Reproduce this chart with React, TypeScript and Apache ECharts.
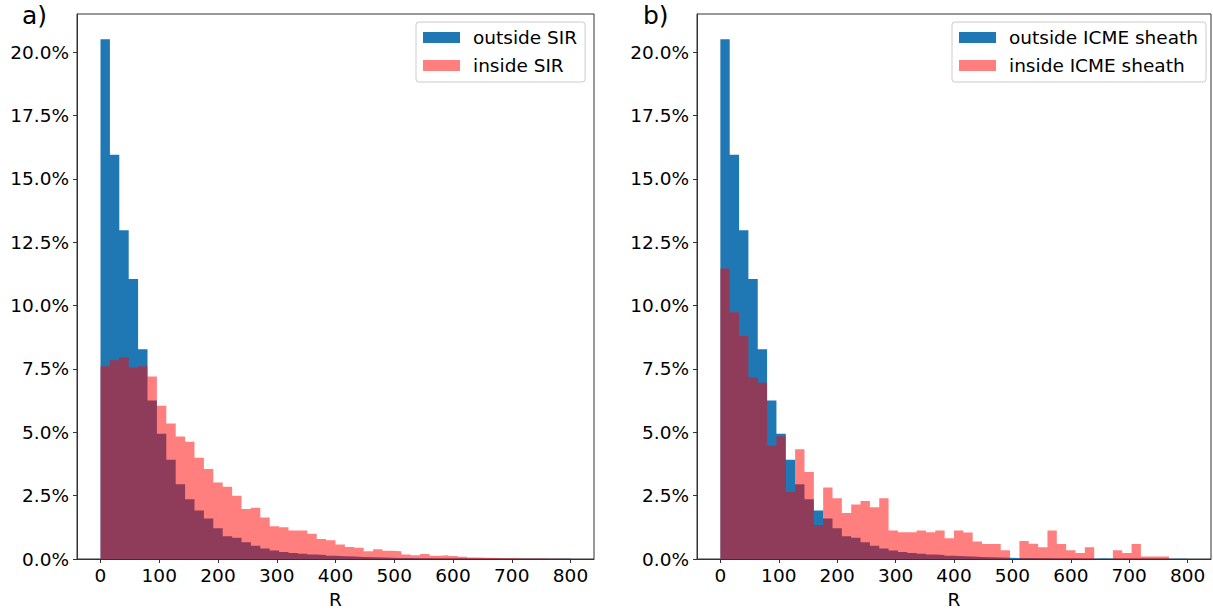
import React, { useEffect, useRef } from "react";
import * as echarts from "echarts";

// Histogram bin edges (R), 50 bins of width 16
const BIN_EDGES = [
  0, 16, 32, 48, 64, 80, 96, 112, 128, 144, 160, 176, 192, 208, 224, 240, 256, 272, 288, 304,
  320, 336, 352, 368, 384, 400, 416, 432, 448, 464, 480, 496, 512, 528, 544, 560, 576, 592, 608, 624,
  640, 656, 672, 688, 704, 720, 736, 752, 768, 784, 800,
];

// Percent of samples per bin
const OUTSIDE_SIR = [
  20.5, 15.95, 12.97, 11.05, 8.27, 6.25, 4.94, 3.92, 2.95, 2.36,
  1.91, 1.6, 1.21, 0.9, 0.84, 0.66, 0.52, 0.41, 0.34, 0.28,
  0.24, 0.21, 0.18, 0.16, 0.13, 0.11, 0.1, 0.08, 0.07, 0.06,
  0.05, 0.04, 0.04, 0.03, 0.03, 0.02, 0.02, 0.02, 0.01, 0.01,
  0.01, 0.01, 0.01, 0.01, 0.01, 0.01, 0.005, 0.005, 0.005, 0.005,
];
const INSIDE_SIR = [
  7.6, 7.84, 7.95, 7.55, 7.6, 7.2, 6.05, 5.35, 4.83, 4.63,
  3.99, 3.55, 3.02, 2.85, 2.5, 1.97, 2.02, 1.64, 1.29, 1.25,
  1.12, 1.12, 1.0, 0.79, 0.74, 0.57, 0.47, 0.44, 0.31, 0.38,
  0.33, 0.31, 0.18, 0.15, 0.2, 0.13, 0.15, 0.12, 0.09, 0.06,
  0.05, 0.04, 0.03, 0.03, 0.02, 0.02, 0.02, 0.01, 0.01, 0.01,
];
const OUTSIDE_ICME = [
  20.5, 15.95, 12.97, 11.05, 8.27, 6.25, 4.94, 3.92, 2.95, 2.36,
  1.91, 1.6, 1.21, 0.9, 0.84, 0.66, 0.52, 0.41, 0.34, 0.28,
  0.24, 0.21, 0.18, 0.16, 0.13, 0.11, 0.1, 0.08, 0.07, 0.06,
  0.05, 0.04, 0.04, 0.03, 0.03, 0.02, 0.02, 0.02, 0.01, 0.01,
  0.02, 0.01, 0.01, 0.01, 0.01, 0.01, 0.005, 0.005, 0.005, 0.005,
];
const INSIDE_ICME = [
  11.46, 9.73, 8.8, 7.16, 6.95, 4.47, 4.84, 2.64, 4.33, 3.43,
  1.34, 2.82, 2.4, 1.81, 2.15, 2.29, 2.04, 2.4, 1.12, 1.06,
  1.06, 1.12, 1.06, 1.12, 0.82, 1.12, 1.05, 0.69, 0.59, 0.59,
  0.35, 0, 0.71, 0.6, 0.46, 1.12, 0.59, 0.35, 0.24, 0.46,
  0, 0, 0.35, 0.24, 0.59, 0.1, 0.1, 0.1, 0, 0,
];

const X_TICKS = [0, 100, 200, 300, 400, 500, 600, 700, 800];
const Y_TICKS = [0, 2.5, 5, 7.5, 10, 12.5, 15, 17.5, 20];

const PANEL_LABELS = ["a)", "b)"];
const LEGEND_A = ["outside SIR", "inside SIR"];
const LEGEND_B = ["outside ICME sheath", "inside ICME sheath"];

const BLUE = "#1f77b4";
const RED = "rgba(255,0,0,0.5)";
const FONT = "DejaVu Sans";
const AXIS_COLOR = "#333";
const FS = 18.5;

function stepData(values: number[]) {
  const pts = values.map((v, i) => [BIN_EDGES[i], v]);
  pts.push([BIN_EDGES[values.length], values[values.length - 1]]);
  return pts;
}

function histSeries(name: string, values: number[], color: string, idx: number) {
  return {
    name,
    type: "line",
    xAxisIndex: idx,
    yAxisIndex: idx,
    step: "end",
    symbol: "none",
    silent: true,
    lineStyle: { width: 0, color },
    itemStyle: { color },
    areaStyle: { color, opacity: 1 },
    data: stepData(values),
  };
}

function xAxisFor(idx: number) {
  return {
    gridIndex: idx,
    type: "value",
    min: -40,
    max: 840,
    z: 10,
    axisLine: { show: true, onZero: false, lineStyle: { color: AXIS_COLOR, width: 1 } },
    axisTick: { show: true, length: 4, customValues: X_TICKS, lineStyle: { color: AXIS_COLOR } },
    axisLabel: {
      customValues: X_TICKS,
      fontSize: FS,
      color: "#000",
      fontFamily: FONT,
      margin: 7,
    },
    splitLine: { show: false },
    name: "R",
    nameLocation: "middle",
    nameGap: 31,
    nameTextStyle: { fontSize: FS, color: "#000", fontFamily: FONT },
  };
}

function yAxisFor(idx: number) {
  return {
    gridIndex: idx,
    type: "value",
    min: 0,
    max: 21.5,
    z: 10,
    axisLine: { show: true, onZero: false, lineStyle: { color: AXIS_COLOR, width: 1 } },
    axisTick: { show: true, length: 4, customValues: Y_TICKS, lineStyle: { color: AXIS_COLOR } },
    axisLabel: {
      customValues: Y_TICKS,
      fontSize: FS,
      color: "#000",
      fontFamily: FONT,
      margin: 8,
      formatter: (v: number) => v.toFixed(1) + "%",
    },
    splitLine: { show: false },
  };
}

function legendFor(names: string[], colors: string[], left: number) {
  return {
    orient: "vertical",
    left,
    top: 22,
    padding: [6, 8, 7, 7],
    itemGap: 9,
    itemWidth: 37,
    itemHeight: 11,
    icon: "rect",
    borderColor: "#cccccc",
    borderWidth: 1,
    borderRadius: 3,
    backgroundColor: "rgba(255,255,255,0.8)",
    textStyle: { fontSize: FS, color: "#000", fontFamily: FONT, padding: [0, 0, 0, 8] },
    data: names.map((n, i) => ({ name: n, itemStyle: { color: colors[i] } })),
    selectedMode: false,
  };
}

export default function App() {
  const ref = useRef<HTMLDivElement>(null);
  useEffect(() => {
    if (!ref.current) return;
    const chart = echarts.init(ref.current, null, { renderer: "svg" });
    chart.setOption({
      animation: false,
      backgroundColor: "#fff",
      textStyle: { fontFamily: FONT },
      grid: [
        { left: 77, top: 14, width: 517, height: 554, show: true, borderColor: AXIS_COLOR, borderWidth: 1, backgroundColor: "transparent" },
        { left: 697, top: 14, width: 514, height: 554, show: true, borderColor: AXIS_COLOR, borderWidth: 1, backgroundColor: "transparent" },
      ],
      xAxis: [xAxisFor(0), xAxisFor(1)],
      yAxis: [yAxisFor(0), yAxisFor(1)],
      legend: [
        legendFor(LEGEND_A, [BLUE, RED], 416),
        legendFor(LEGEND_B, [BLUE, RED], 952),
      ],
      graphic: [
        { type: "text", left: 22, top: 3, style: { text: PANEL_LABELS[0], fontSize: 25, fill: "#000", fontFamily: FONT } },
        { type: "text", left: 643, top: 3, style: { text: PANEL_LABELS[1], fontSize: 25, fill: "#000", fontFamily: FONT } },
      ],
      series: [
        histSeries(LEGEND_A[0], OUTSIDE_SIR, BLUE, 0),
        histSeries(LEGEND_A[1], INSIDE_SIR, RED, 0),
        histSeries(LEGEND_B[0], OUTSIDE_ICME, BLUE, 1),
        histSeries(LEGEND_B[1], INSIDE_ICME, RED, 1),
      ],
    });
    return () => chart.dispose();
  }, []);
  return (
    <div
      ref={ref}
      style={{ position: "fixed", left: 0, top: 0, width: 1213, height: 614, background: "#fff" }}
    />
  );
}
